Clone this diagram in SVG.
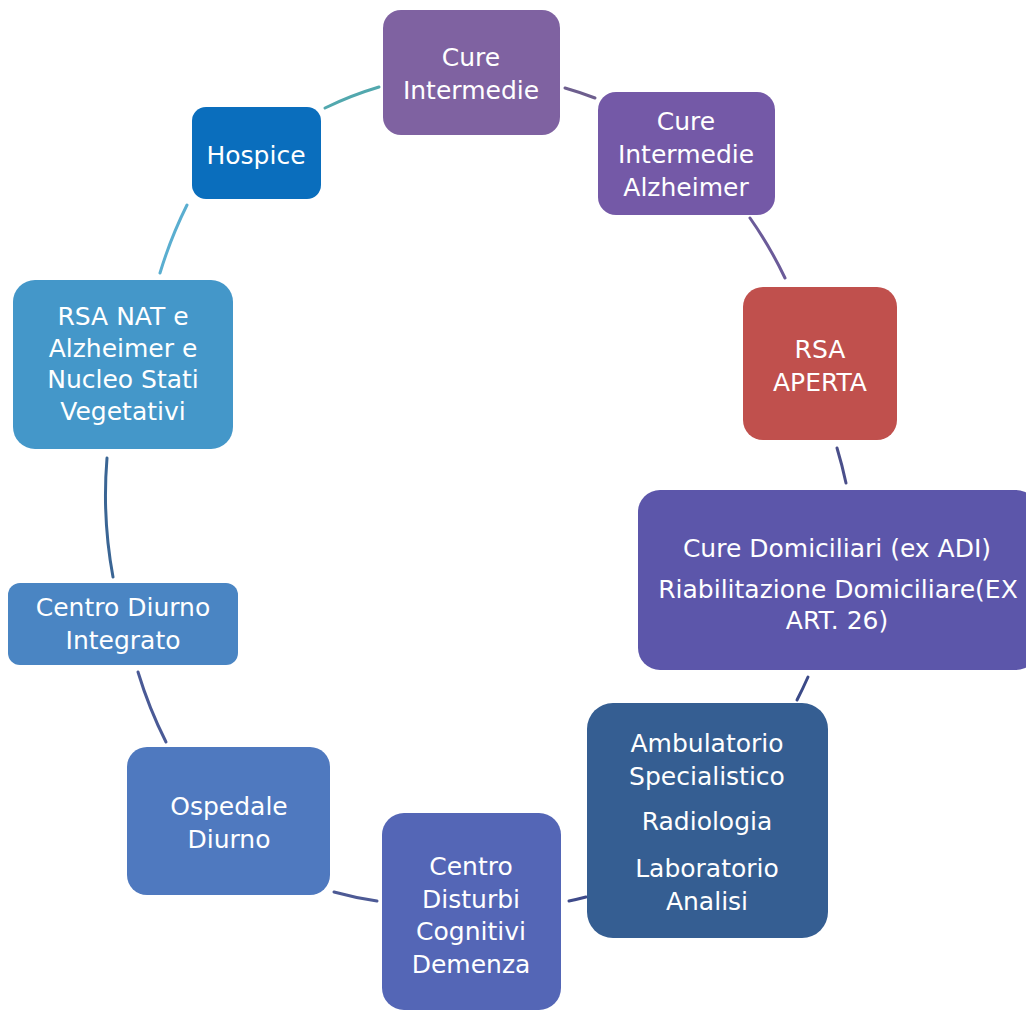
<svg xmlns="http://www.w3.org/2000/svg" width="1026" height="1012" viewBox="0 0 1026 1012">
<style>
.t{font-family:"DejaVu Sans",sans-serif;font-size:25px;fill:#ffffff;text-anchor:middle}
.c{fill:none;stroke-width:3;stroke-linecap:round}
</style>
<rect width="1026" height="1012" fill="#ffffff"/>
<g id="connectors">
<path class="c" stroke="#52a8ae" d="M325,108 A373,410 0 0 1 379,87"/>
<path class="c" stroke="#6d5e8e" d="M565,88 A373,410 0 0 1 595,98"/>
<path class="c" stroke="#6b5b99" d="M750,218 A373,410 0 0 1 785,278"/>
<path class="c" stroke="#4a4f8a" d="M837,448 A373,410 0 0 1 846,483"/>
<path class="c" stroke="#3b4a88" d="M808,677 A373,410 0 0 1 797,700"/>
<path class="c" stroke="#3e4a8a" d="M586,897 A373,410 0 0 1 569,901"/>
<path class="c" stroke="#4d5a95" d="M377,901 A373,410 0 0 1 334,892"/>
<path class="c" stroke="#4a5a96" d="M166,742 A373,410 0 0 1 138,672"/>
<path class="c" stroke="#3a6594" d="M113,577 A373,410 0 0 1 107,458"/>
<path class="c" stroke="#5aaed0" d="M160,273 A373,410 0 0 1 187,205"/>
</g>
<g id="cure-intermedie">
<rect x="383" y="10" width="177" height="125" rx="18" fill="#7f62a1"/>
<text class="t" x="471" y="66">Cure</text>
<text class="t" x="471" y="99">Intermedie</text>
</g>
<g id="cure-intermedie-alzheimer">
<rect x="598" y="92" width="177" height="123" rx="18" fill="#7459a7"/>
<text class="t" x="686" y="130">Cure</text>
<text class="t" x="686" y="163">Intermedie</text>
<text class="t" x="686" y="196">Alzheimer</text>
</g>
<g id="hospice">
<rect x="192" y="107" width="129" height="92" rx="14" fill="#0a6ebd"/>
<text class="t" x="256" y="164">Hospice</text>
</g>
<g id="rsa-aperta">
<rect x="743" y="287" width="154" height="153" rx="20" fill="#c0504d"/>
<text class="t" x="820" y="358">RSA</text>
<text class="t" x="820" y="391">APERTA</text>
</g>
<g id="cure-domiciliari">
<rect x="638" y="490" width="400" height="180" rx="22" fill="#5c56aa"/>
<text class="t" x="837" y="557">Cure Domiciliari (ex ADI)</text>
<text class="t" x="838" y="598">Riabilitazione Domiciliare(EX</text>
<text class="t" x="837" y="629">ART. 26)</text>
</g>
<g id="ambulatorio">
<rect x="587" y="703" width="241" height="235" rx="26" fill="#355e92"/>
<text class="t" x="707" y="752">Ambulatorio</text>
<text class="t" x="707" y="785">Specialistico</text>
<text class="t" x="707" y="830">Radiologia</text>
<text class="t" x="707" y="877">Laboratorio</text>
<text class="t" x="707" y="910">Analisi</text>
</g>
<g id="centro-disturbi">
<rect x="382" y="813" width="179" height="197" rx="22" fill="#5466b6"/>
<text class="t" x="471" y="875">Centro</text>
<text class="t" x="471" y="908">Disturbi</text>
<text class="t" x="471" y="940">Cognitivi</text>
<text class="t" x="471" y="973">Demenza</text>
</g>
<g id="ospedale-diurno">
<rect x="127" y="747" width="203" height="148" rx="20" fill="#4f79bf"/>
<text class="t" x="229" y="815">Ospedale</text>
<text class="t" x="229" y="848">Diurno</text>
</g>
<g id="centro-diurno-integrato">
<rect x="8" y="583" width="230" height="82" rx="12" fill="#4a85c3"/>
<text class="t" x="123" y="616">Centro Diurno</text>
<text class="t" x="123" y="649">Integrato</text>
</g>
<g id="rsa-nat">
<rect x="13" y="280" width="220" height="169" rx="22" fill="#4497c9"/>
<text class="t" x="123" y="325">RSA NAT e</text>
<text class="t" x="123" y="357">Alzheimer e</text>
<text class="t" x="123" y="388">Nucleo Stati</text>
<text class="t" x="123" y="420">Vegetativi</text>
</g>
</svg>
